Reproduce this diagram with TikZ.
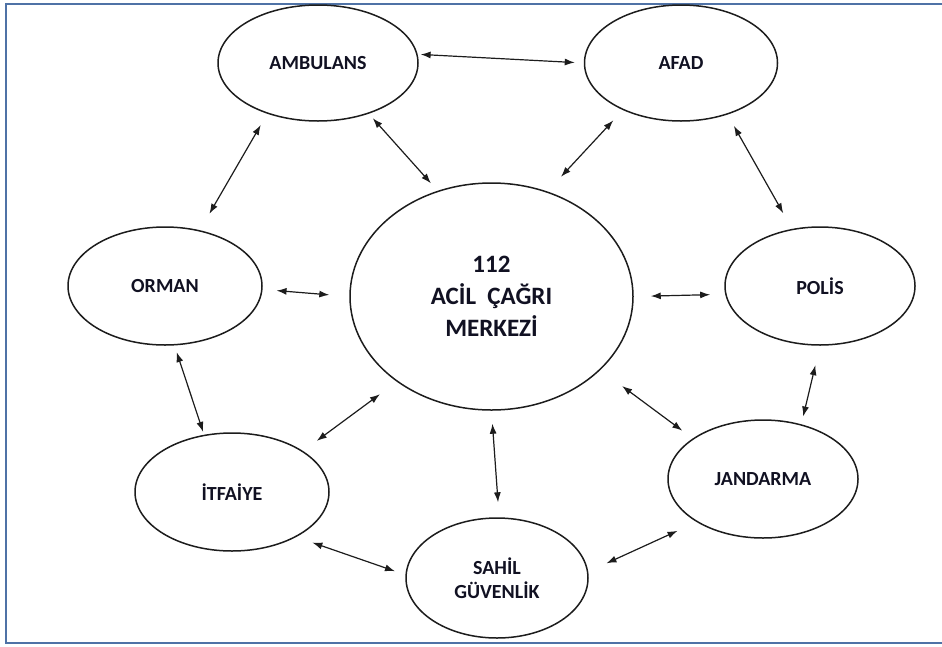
\documentclass[tikz,border=0pt]{standalone}
\usepackage{fontspec}
\setmainfont{Carlito}
\usepackage{tikz}
\usetikzlibrary{positioning,shapes.geometric,arrows.meta}
\definecolor{frameblue}{HTML}{4F72A6}
\definecolor{inkgray}{HTML}{1C1C1C}
\definecolor{labelink}{HTML}{111122}

\begin{document}
\begin{tikzpicture}[
  x=1pt, y=-1pt,
  unit/.style={draw=inkgray, ellipse, line width=1.5pt, inner sep=0pt,
               minimum width=194pt, minimum height=118pt, text=labelink,
               font=\fontsize{20}{24}\selectfont\bfseries, align=center},
  hub/.style={unit, minimum width=283pt, minimum height=227pt,
              font=\fontsize{25}{32}\selectfont\bfseries},
  link/.style={{Latex[length=10pt,width=7pt]}-{Latex[length=10pt,width=7pt]},
               line width=1.2pt, inkgray}
]
  \useasboundingbox (0,0) rectangle (942,646);
  \draw[frameblue, line width=2pt] (5.5,3.5) rectangle (950,642.5);

  % Call centre
  \node[hub] (ctr) at (491.5,296.5) {112\\ACİL\ \ ÇAĞRI\\MERKEZİ};

  % Units round it
  \node[unit, minimum width=200pt, minimum height=116pt] (amb) at (318,63) {AMBULANS};
  \node[unit, minimum width=193pt, minimum height=116pt] (afad) at (681,63) {AFAD};
  \node[unit] (orman) at (165,286) {ORMAN};
  \node[unit, minimum width=190pt] (polis) at (820,286) {POLİS};
  \node[unit] (itf) at (232,492) {İTFAİYE};
  \node[unit, minimum width=182pt, minimum height=120pt] (sahil) at (497,578) {SAHİL\\GÜVENLİK};
  \node[unit, minimum width=190pt] (jand) at (763,479) {JANDARMA};

  % Outer ring
  \draw[link, shorten <=3pt, shorten >=9pt] (amb.5) -- (afad.180);
  \draw[link, shorten <=13pt, shorten >=19pt] (amb.225) -- (orman.58);
  \draw[link, shorten <=13pt, shorten >=18pt] (afad.-48) -- (polis.116);
  \draw[link, shorten <=7pt, shorten >=3pt] (orman.-81) -- (itf.116);
  \draw[link, shorten <=20pt, shorten >=8pt] (polis.-90) -- (jand.55);
  \draw[link, shorten <=17pt, shorten >=11pt] (itf.-35) -- (sahil.178);
  \draw[link, shorten <=20pt, shorten >=21pt] (sahil.4) -- (jand.213);
  % Spokes to the centre
  \draw[link, shorten <=6pt, shorten >=10pt] (amb.-45) -- (ctr.117);
  \draw[link, shorten <=14pt, shorten >=20pt] (afad.219) -- (ctr.62);
  \draw[link, shorten <=14pt, shorten >=20pt] (orman.-2) -- (ctr.180);
  \draw[link, shorten <=17pt, shorten >=15pt] (ctr.0) -- (polis.185);
  \draw[link, shorten <=21pt, shorten >=17pt] (ctr.222) -- (itf.30);
  \draw[link, shorten <=13pt, shorten >=15pt] (ctr.-90) -- (sahil.88);
  \draw[link, shorten <=27pt, shorten >=13pt] (ctr.-34) -- (jand.150);
\end{tikzpicture}
\end{document}
